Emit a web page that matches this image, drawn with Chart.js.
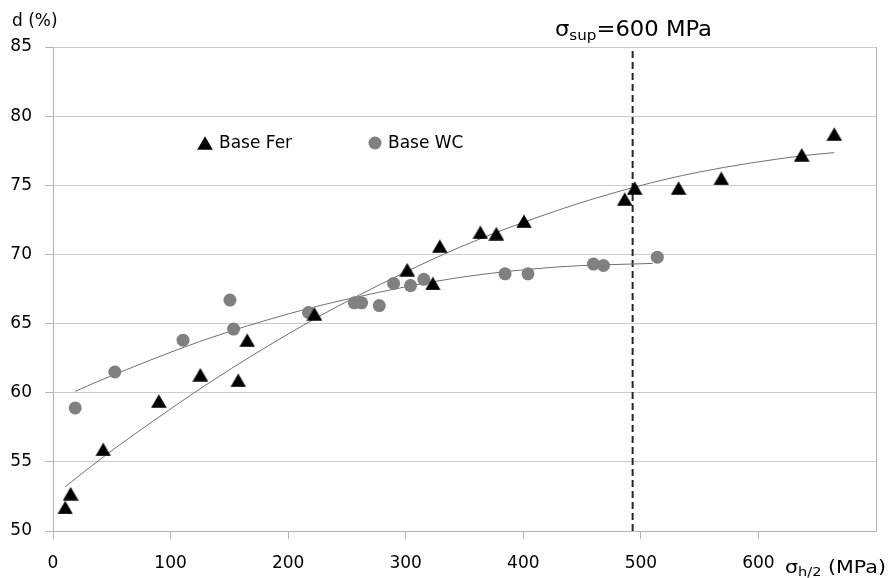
<!DOCTYPE html>
<html><head><meta charset="utf-8">
<script src="https://cdn.jsdelivr.net/npm/chart.js@4/dist/chart.umd.min.js"></script>
<style>html,body{margin:0;padding:0;background:#fff}canvas{display:block}</style>
</head><body>
<canvas id="c" width="890" height="578"></canvas>
<script>
// ---- data ----
const ferX = [10.4, 15.0, 42.7, 90.0, 125.3, 157.6, 165.2, 222.4, 301.3, 323.1, 329.0, 363.5, 377.1, 400.6, 486.3, 494.8, 532.1, 568.4, 636.8, 664.5];
const ferY = [51.7, 52.7, 55.9, 59.4, 61.3, 60.9, 63.8, 65.7, 68.9, 67.9, 70.6, 71.6, 71.5, 72.4, 74.0, 74.8, 74.8, 75.5, 77.2, 78.7];
const wcX = [18.9, 52.6, 110.6, 150.5, 153.6, 217.3, 256.3, 262.5, 277.5, 289.7, 304.1, 315.4, 384.5, 404.0, 459.7, 468.2, 514.0];
const wcY = [58.9, 61.5, 63.8, 66.7, 64.6, 65.8, 66.5, 66.5, 66.3, 67.9, 67.75, 68.2, 68.6, 68.6, 69.3, 69.2, 69.8];
// trend curves
const ferTrendX = [10.4, 42.7, 98.2, 135.2, 201.1, 256.3, 345.4, 430.3, 494.8, 549.1, 636.8, 664.5];
const ferTrendY = [53.2, 55.35, 58.72, 60.85, 64.3, 66.88, 70.5, 73.22, 74.87, 75.95, 77.13, 77.36];
const wcTrendX = [18.9, 40.0, 124.8, 201.1, 256.3, 345.4, 430.3, 510.0];
const wcTrendY = [60.1, 60.88, 63.7, 65.72, 66.88, 68.33, 69.1, 69.35];
const supLineX = 493;
const xTickValues = [0, 100, 200, 300, 400, 500, 600];
const yTickValues = [50, 55, 60, 65, 70, 75, 80, 85];
const seriesNames = ['Base Fer', 'Base WC'];

const FONT = '"DejaVu Sans", sans-serif';
const pts = (xs, ys) => xs.map((x, i) => ({x, y: ys[i]}));

// triangle marker, centred on its bounding box
const tri = document.createElement('canvas');
tri.width = 16; tri.height = 14;
(function () {
  const t = tri.getContext('2d');
  t.fillStyle = '#000';
  t.beginPath(); t.moveTo(8, 0.3); t.lineTo(15.8, 13.8); t.lineTo(0.2, 13.8); t.closePath(); t.fill();
})();

function drawRich(ctx, segs, x, baseline, targetW) {
  let w = 0;
  segs.forEach(s => { ctx.font = s.size + 'px ' + FONT; s.w = ctx.measureText(s.t).width; w += s.w; });
  const k = targetW ? targetW / w : 1;
  ctx.save();
  ctx.translate(x, baseline);
  ctx.scale(k, 1);
  ctx.fillStyle = '#000';
  ctx.textBaseline = 'alphabetic';
  ctx.textAlign = 'left';
  let cx = 0;
  segs.forEach(s => { ctx.font = s.size + 'px ' + FONT; ctx.fillText(s.t, cx, s.dy || 0); cx += s.w; });
  ctx.restore();
}

const annot = {
  id: 'annot',
  afterDraw(chart) {
    const ctx = chart.ctx;
    drawRich(ctx, [{t: 'd (%)', size: 17}], 12, 25.5);
    drawRich(ctx, [{t: 'σ', size: 21}, {t: 'sup', size: 14, dy: 4}, {t: '=600 MPa', size: 21}], 555, 36, 157);
    drawRich(ctx, [{t: 'σ', size: 17}, {t: 'h/2', size: 12, dy: 3}, {t: ' (MPa)', size: 17}], 785, 573, 101);
    // legend
    ctx.save();
    ctx.drawImage(tri, 205 - 8, 143 - 7);
    ctx.fillStyle = '#808080';
    ctx.beginPath(); ctx.arc(375, 143, 6.5, 0, Math.PI * 2); ctx.fill();
    ctx.fillStyle = '#000'; ctx.font = '17px ' + FONT; ctx.textBaseline = 'middle';
    ctx.fillText(seriesNames[0], 219, 144);
    ctx.fillText(seriesNames[1], 388, 144);
    ctx.restore();
  }
};

new Chart(document.getElementById('c'), {
  type: 'scatter',
  data: {
    datasets: [
      {label: seriesNames[0], data: pts(ferX, ferY), pointStyle: tri, pointRadius: 8, pointHoverRadius: 8,
       backgroundColor: '#000', borderColor: '#000', borderWidth: 0, order: 0},
      {label: seriesNames[1], data: pts(wcX, wcY), pointStyle: 'circle', pointRadius: 6.5, pointHoverRadius: 6.5,
       backgroundColor: '#808080', borderColor: '#808080', borderWidth: 0, order: 0},
      {label: 'trend Fer', data: pts(ferTrendX, ferTrendY), showLine: true, pointRadius: 0, borderColor: '#707070',
       borderWidth: 1, cubicInterpolationMode: 'monotone', fill: false, order: 1},
      {label: 'trend WC', data: pts(wcTrendX, wcTrendY), showLine: true, pointRadius: 0, borderColor: '#707070',
       borderWidth: 1, cubicInterpolationMode: 'monotone', fill: false, order: 1},
      {label: 'sup', data: [{x: supLineX, y: yTickValues[0]}, {x: supLineX, y: yTickValues[yTickValues.length - 1]}],
       showLine: true, pointRadius: 0, borderColor: '#262626', borderWidth: 2, borderDash: [7, 4], order: 2}
    ]
  },
  options: {
    responsive: false,
    animation: false,
    events: [],
    layout: {padding: {left: 0, right: 13, top: 47, bottom: 0}},
    plugins: {legend: {display: false}, tooltip: {enabled: false}},
    scales: {
      x: {
        type: 'linear', min: 0, max: 700,
        afterBuildTicks: s => { s.ticks = xTickValues.concat([700]).map(v => ({value: v})); },
        afterFit: s => { s.height = 47; },
        ticks: {font: {family: FONT, size: 17}, color: '#000', padding: 14,
                callback: v => (xTickValues.includes(v) ? String(v) : '')},
        grid: {drawOnChartArea: true, tickLength: 8,
               color: c => (c.tick && c.tick.value === 700 ? '#b4b4b4' : 'rgba(0,0,0,0)'),
               tickColor: c => (c.tick && c.tick.value === 700 ? 'rgba(0,0,0,0)' : '#b4b4b4')},
        border: {display: true, color: '#b4b4b4', width: 1}
      },
      y: {
        type: 'linear', min: 50, max: 85,
        afterBuildTicks: s => { s.ticks = yTickValues.map(v => ({value: v})); },
        afterFit: s => { s.width = 53; },
        ticks: {font: {family: FONT, size: 17}, color: '#000', padding: 13},
        grid: {color: '#cccccc', tickLength: 8, tickColor: '#b4b4b4'},
        border: {display: true, color: '#b4b4b4', width: 1}
      }
    }
  },
  plugins: [annot]
});
</script>
</body></html>
